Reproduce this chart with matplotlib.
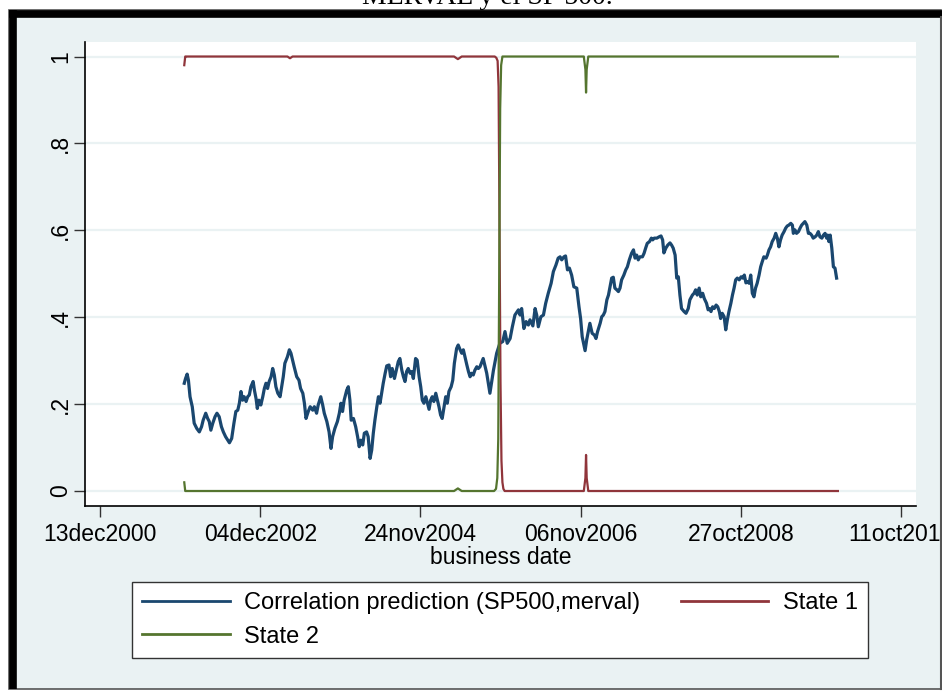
import matplotlib
matplotlib.use("Agg")
import matplotlib.pyplot as plt
from matplotlib.lines import Line2D
from matplotlib.patches import Rectangle

plt.rcParams['font.family'] = ['Liberation Sans', 'DejaVu Sans']

# x axis in business days since 13dec2000 (ticks every 500 business days)
tick_pos = [0, 500, 1000, 1500, 2000, 2500]
tick_labels = ["13dec2000", "04dec2002", "24nov2004", "06nov2006", "27oct2008", "11oct2010"]
y_ticks = [0, 0.2, 0.4, 0.6, 0.8, 1.0]
y_labels = ["0", ".2", ".4", ".6", ".8", "1"]

corr_bd = [263, 267, 272, 276, 281, 288, 294, 302, 310, 317,
           322, 330, 336, 341, 346, 352, 359, 365, 372, 379,
           385, 392, 399, 404, 411, 418, 424, 430, 435, 440,
           445, 450, 456, 461, 466, 471, 478, 482, 487, 491,
           496, 502, 508, 513, 518, 523, 528, 534, 539, 544,
           549, 555, 562, 567, 572, 577, 585, 591, 596, 601,
           606, 614, 621, 626, 633, 638, 643, 650, 656, 664,
           669, 676, 681, 689, 695, 700, 708, 715, 721, 726,
           733, 741, 747, 752, 757, 762, 770, 775, 780, 784,
           791, 798, 804, 809, 814, 820, 825, 832, 837, 843,
           848, 853, 858, 864, 869, 874, 879, 884, 890, 895,
           902, 907, 912, 919, 926, 931, 936, 942, 947, 952,
           957, 962, 968, 973, 978, 985, 990, 996, 1001, 1006,
           1011, 1017, 1022, 1027, 1032, 1037, 1042, 1048, 1053, 1058,
           1063, 1068, 1074, 1079, 1084, 1089, 1096, 1101, 1106, 1113,
           1118, 1124, 1129, 1134, 1139, 1145, 1150, 1155, 1160, 1165,
           1170, 1176, 1181, 1186, 1196, 1207, 1217, 1228, 1238, 1248,
           1257, 1264, 1271, 1280, 1287, 1295, 1306, 1311, 1316, 1323,
           1330, 1337, 1342, 1351, 1358, 1363, 1368, 1376, 1384, 1391,
           1399, 1408, 1415, 1423, 1430, 1436, 1441, 1448, 1453, 1459,
           1465, 1472, 1479, 1488, 1495, 1500, 1505, 1514, 1519, 1524,
           1529, 1536, 1543, 1548, 1553, 1561, 1566, 1571, 1576, 1582,
           1587, 1592, 1597, 1602, 1607, 1613, 1618, 1623, 1628, 1635,
           1641, 1646, 1652, 1659, 1665, 1670, 1675, 1680, 1685, 1693,
           1698, 1703, 1708, 1715, 1721, 1725, 1730, 1738, 1745, 1751,
           1756, 1760, 1766, 1772, 1779, 1784, 1789, 1795, 1800, 1805,
           1810, 1815, 1823, 1829, 1836, 1841, 1849, 1854, 1859, 1864,
           1870, 1875, 1881, 1886, 1893, 1898, 1902, 1907, 1912, 1917,
           1923, 1928, 1933, 1937, 1942, 1948, 1953, 1958, 1963, 1969,
           1974, 1979, 1984, 1989, 1995, 2001, 2006, 2011, 2016, 2021,
           2026, 2031, 2036, 2041, 2046, 2051, 2057, 2062, 2067, 2072,
           2079, 2083, 2088, 2093, 2098, 2104, 2109, 2114, 2119, 2124,
           2129, 2135, 2140, 2145, 2150, 2156, 2161, 2164, 2169, 2174,
           2180, 2185, 2190, 2195, 2200, 2206, 2211, 2216, 2221, 2226,
           2232, 2237, 2242, 2247, 2253, 2258, 2263, 2268, 2271, 2275,
           2279, 2284, 2289, 2294, 2299]
corr_val = [.248, .259, .269, .255, .217, .194, .156, .144, .136, .148,
            .163, .179, .167, .160, .140, .156, .171, .179, .171, .148,
            .136, .125, .117, .111, .121, .156, .183, .186, .202, .229,
            .209, .217, .206, .217, .221, .240, .252, .232, .213, .190,
            .209, .198, .217, .236, .248, .236, .252, .263, .282, .267,
            .240, .225, .217, .240, .263, .294, .309, .325, .317, .301,
            .286, .263, .255, .236, .225, .202, .167, .183, .194, .186,
            .194, .179, .198, .217, .198, .179, .160, .136, .098, .125,
            .144, .160, .179, .202, .183, .209, .232, .240, .209, .163,
            .167, .148, .125, .102, .117, .106, .133, .136, .125, .075,
            .094, .133, .163, .194, .217, .202, .225, .248, .271, .288,
            .290, .263, .282, .259, .282, .298, .305, .278, .263, .252,
            .275, .282, .271, .275, .259, .305, .301, .263, .240, .209,
            .202, .217, .202, .188, .209, .217, .206, .225, .209, .194,
            .175, .167, .194, .217, .202, .229, .240, .255, .294, .328,
            .336, .325, .317, .325, .309, .290, .275, .263, .271, .267,
            .278, .286, .282, .286, .305, .271, .225, .278, .317, .340,
            .344, .367, .340, .351, .378, .405, .417, .405, .420, .374,
            .390, .382, .394, .380, .420, .405, .378, .401, .405, .432,
            .455, .478, .505, .520, .536, .539, .532, .539, .541, .509,
            .513, .497, .470, .467, .424, .397, .355, .323, .348, .367,
            .386, .363, .359, .351, .367, .386, .401, .405, .413, .440,
            .451, .470, .490, .492, .467, .463, .459, .467, .486, .497,
            .509, .516, .532, .547, .555, .536, .543, .532, .539, .539,
            .547, .559, .570, .574, .582, .578, .582, .582, .585, .587,
            .578, .548, .559, .566, .571, .566, .559, .543, .490, .493,
            .451, .420, .413, .409, .420, .440, .451, .455, .463, .451,
            .467, .447, .455, .443, .432, .417, .420, .413, .424, .420,
            .428, .424, .413, .397, .409, .401, .371, .394, .413, .432,
            .451, .467, .486, .490, .486, .493, .490, .497, .479, .482,
            .478, .497, .455, .447, .467, .478, .497, .516, .528, .539,
            .536, .543, .555, .562, .574, .582, .593, .582, .562, .578,
            .589, .597, .605, .610, .612, .616, .612, .593, .601, .593,
            .597, .605, .612, .616, .620, .612, .593, .593, .589, .582,
            .585, .589, .597, .585, .582, .589, .593, .582, .589, .574,
            .589, .559, .516, .513, .490]

state1_bd = [263, 266, 270, 585, 593, 601, 1105, 1117, 1129, 1232, 1237, 1241, 1244,
             1247, 1250, 1253, 1256, 1259, 1263, 1510, 1515, 1517, 1519, 1524, 2303]
state1_val = [0.98, 1.0, 1.0, 1.0, 0.996, 1.0, 1.0, 0.994, 1.0, 1.0, 0.997, 0.99, 0.93,
              0.6, 0.25, 0.07, 0.02, 0.005, 0.0, 0.0, 0.03, 0.083, 0.03, 0.0, 0.0]

state2_bd = [263, 266, 270, 1105, 1117, 1129, 1230, 1236, 1240, 1243, 1246, 1249, 1252,
             1256, 1510, 1515, 1517, 1519, 1524, 2303]
state2_val = [0.02, 0.0, 0.0, 0.0, 0.006, 0.0, 0.0, 0.005, 0.03, 0.12, 0.5, 0.88, 0.98,
              1.0, 1.0, 0.97, 0.917, 0.97, 1.0, 1.0]

navy = '#1a476f'
maroon = '#90353b'
green = '#55752f'
bg = '#eaf2f3'

fig = plt.figure(figsize=(9.42, 6.91), dpi=100)
fig.patch.set_facecolor('white')
W, H = 942.0, 691.0

# graph region with the thick frame
fig.add_artist(Rectangle((9 / W, 2.5 / H), 932 / W, 678.5 / H, transform=fig.transFigure,
                         facecolor=bg, edgecolor='#555555', lw=1.2, zorder=-2))

ax = fig.add_axes([85 / W, 1 - 506 / H, 831 / W, 464 / H])
ax.set_facecolor('white')

ax.plot(corr_bd, corr_val, color=navy, lw=2.3, zorder=3)
ax.plot(state1_bd, state1_val, color=maroon, lw=1.6, zorder=4)
ax.plot(state2_bd, state2_val, color=green, lw=1.6, zorder=5)

ax.set_xlim(-46.8, 2546.8)
ax.set_ylim(-0.0345, 1.0334)
ax.set_xticks(tick_pos)
ax.set_xticklabels(tick_labels, fontsize=16.5)
ax.set_yticks(y_ticks)
ax.set_yticklabels(y_labels, fontsize=16.5, rotation=90, va='center')
ax.tick_params(axis='x', length=8, width=1, color='#333333', pad=4.5)
ax.tick_params(axis='y', length=8, width=1, color='#333333', pad=1.5)
ax.grid(axis='y', color=bg, lw=1.6, zorder=0)
ax.set_axisbelow(True)
for s in ['top', 'right']:
    ax.spines[s].set_visible(False)
for s in ['left', 'bottom']:
    ax.spines[s].set_linewidth(1.2)
    ax.spines[s].set_color('black')
ax.set_xlabel("business date", fontsize=16.5, labelpad=0)

handles = [Line2D([], [], color=navy, lw=2.0),
           Line2D([], [], color=green, lw=2.0),
           Line2D([], [], color=maroon, lw=2.0)]
labels = ["Correlation prediction (SP500,merval)", "State 2", "State 1"]
leg = fig.legend(handles, labels, ncol=2, loc='upper left',
                 bbox_to_anchor=(132 / W, 1 - 582 / H), bbox_transform=fig.transFigure,
                 fontsize=17, frameon=True, fancybox=False, framealpha=1,
                 edgecolor='#333333', handlelength=3.7, handletextpad=0.6,
                 columnspacing=1.75, borderpad=0.43, labelspacing=0.49, borderaxespad=0)
leg.get_frame().set_linewidth(1.0)

# thick black top/left edges of the frame, drawn over everything
fig.add_artist(Line2D([9 / W, 942 / W], [1 - 13.5 / H, 1 - 13.5 / H], transform=fig.transFigure,
                      color='black', lw=5.5, solid_capstyle='butt', zorder=10))
fig.add_artist(Line2D([13 / W, 13 / W], [1 - 10 / H, 2.5 / H], transform=fig.transFigure,
                      color='black', lw=5.5, solid_capstyle='butt', zorder=10))
fig.add_artist(Line2D([940.5 / W, 940.5 / W], [1 - 17 / H, 2.5 / H], transform=fig.transFigure,
                      color='#555555', lw=1.5, zorder=10))

fig.text(487 / W, 1 - 4 / H, "MERVAL y el SP 500.", fontsize=20, ha='center', va='baseline',
         family=['Liberation Serif', 'DejaVu Serif'])

fig.savefig("out.png", dpi=100, facecolor='white')
